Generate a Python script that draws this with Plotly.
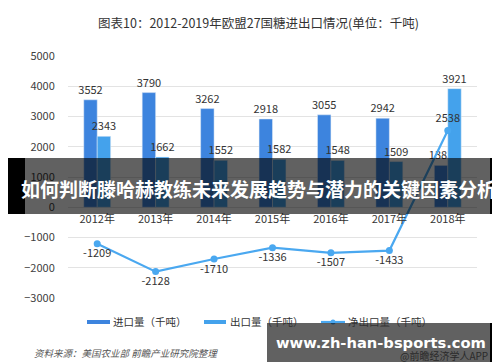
import plotly.graph_objects as go

years = ["2012年", "2013年", "2014年", "2015年", "2016年", "2017年", "2018年"]
imports = [3552, 3790, 3262, 2918, 3055, 2942, 1383]
exports = [2343, 1662, 1552, 1582, 1548, 1509, 3921]
net_exports = [-1209, -2128, -1710, -1336, -1507, -1433, 2538]
y_ticks = [5000, 4000, 3000, 2000, 1000, 0, -1000, -2000, -3000]

W, H = 500, 362
L, R, T, B = 60, 31, 48, 72
PW, PH = W - L - R, H - T - B

def px(x):
    return (x - L) / PW

def py(y):
    return (H - B - y) / PH

FONT = "Noto Sans CJK SC, Noto Sans, sans-serif"
C_IMP = "#3d84de"
C_EXP = "#44a2ec"
C_NET = "#4aa8f0"

fig = go.Figure()
fig.add_trace(go.Bar(x=years, y=imports, name="进口量（千吨）", marker_color=C_IMP,
                     text=[str(v) for v in imports], textposition="outside", constraintext="none",
                     textfont=dict(size=11, color="#333333"), cliponaxis=False))
fig.add_trace(go.Bar(x=years, y=exports, name="出口量（千吨）", marker_color=C_EXP,
                     text=[str(v) for v in exports], textposition="outside", constraintext="none",
                     textfont=dict(size=11, color="#333333"), cliponaxis=False))
fig.add_trace(go.Scatter(x=years, y=net_exports, name="净出口量（千吨）", mode="lines+markers+text",
                         line=dict(color=C_NET, width=2.2), marker=dict(size=7, color=C_NET),
                         text=[str(v) for v in net_exports],
                         textposition=["bottom center"] * 6 + ["top center"],
                         textfont=dict(size=11, color="#333333"), cliponaxis=False))

fig.update_layout(
    width=W, height=H, margin=dict(l=L, r=R, t=T, b=B),
    paper_bgcolor="white", plot_bgcolor="white",
    barmode="group", bargap=0.54, bargroupgap=0,
    showlegend=False,
    font=dict(family=FONT, color="#333333"),
    uniformtext=dict(mode=False),
    yaxis=dict(range=[-3000, 5000], tickvals=y_ticks, showgrid=True, gridcolor="#e3e3e3",
               gridwidth=1, zeroline=True, zerolinecolor="#e3e3e3", zerolinewidth=1,
               ticks="outside", ticklen=10, tickcolor="rgba(0,0,0,0)",
               tickfont=dict(size=11, color="#404040"), showline=False),
    xaxis=dict(type="category", anchor="free", position=3000 / 8000, showline=False,
               ticks="outside", ticklen=2, tickcolor="rgba(0,0,0,0)",
               tickfont=dict(size=11, color="#333333"), showgrid=False),
)

ann = []
shapes = []
# title
ann.append(dict(text="图表10：2012-2019年欧盟27国糖进出口情况(单位：千吨)", xref="paper", yref="paper",
                x=px(250), y=py(15), showarrow=False, xanchor="center", yanchor="middle",
                font=dict(size=12.5, color="#333333", family=FONT)))
# legend (manual)
shapes.append(dict(type="rect", xref="paper", yref="paper", x0=px(79), x1=px(102), y0=py(312), y1=py(316),
                   fillcolor=C_IMP, line=dict(width=0)))
shapes.append(dict(type="rect", xref="paper", yref="paper", x0=px(196), x1=px(218), y0=py(312), y1=py(316),
                   fillcolor=C_EXP, line=dict(width=0)))
shapes.append(dict(type="line", xref="paper", yref="paper", x0=px(313), x1=px(337), y0=py(314), y1=py(314),
                   line=dict(color=C_NET, width=2.2)))
shapes.append(dict(type="circle", xref="paper", yref="paper", x0=px(322.5), x1=px(327.5), y0=py(311.5), y1=py(316.5),
                   fillcolor=C_NET, line=dict(width=0)))
for xx, t in [(103, "进口量（千吨）"), (220, "出口量（千吨）"), (338, "净出口量（千吨）")]:
    ann.append(dict(text=t, xref="paper", yref="paper", x=px(xx), y=py(313.5), showarrow=False,
                    xanchor="left", yanchor="middle", font=dict(size=10.5, color="#333333", family=FONT)))
# source
ann.append(dict(text="<i>资料来源：美国农业部 前瞻产业研究院整理</i>", xref="paper", yref="paper",
                x=px(24), y=py(345), showarrow=False, xanchor="left", yanchor="middle",
                font=dict(size=9.5, color="#555555", family=FONT)))
ann.append(dict(text="@前瞻经济学人APP", xref="paper", yref="paper",
                x=px(482), y=py(347), showarrow=False, xanchor="right", yanchor="middle",
                font=dict(size=10, color="#2a2a2a", family=FONT)))

# overlay banner
shapes.append(dict(type="rect", xref="paper", yref="paper", x0=px(17), x1=px(482), y0=py(206), y1=py(150),
                   fillcolor="rgba(0,0,0,0.62)", line=dict(width=0), layer="above"))
shapes.append(dict(type="rect", xref="paper", yref="paper", x0=px(0), x1=px(17), y0=py(206), y1=py(150),
                   fillcolor="black", line=dict(width=0), layer="above"))
shapes.append(dict(type="rect", xref="paper", yref="paper", x0=px(482), x1=px(500), y0=py(206), y1=py(150),
                   fillcolor="black", line=dict(width=0), layer="above"))
ann.append(dict(text="<b>如何判断滕哈赫教练未来发展趋势与潜力的关键因素分析</b>", xref="paper", yref="paper",
                x=px(250), y=py(180), showarrow=False, xanchor="center", yanchor="middle",
                font=dict(size=19, color="white", family=FONT)))
# bottom-right watermark box
shapes.append(dict(type="rect", xref="paper", yref="paper", x0=px(259), x1=px(482), y0=py(362), y1=py(315),
                   fillcolor="rgba(0,0,0,0.62)", line=dict(width=0), layer="above"))
shapes.append(dict(type="rect", xref="paper", yref="paper", x0=px(482), x1=px(490), y0=py(362), y1=py(315),
                   fillcolor="black", line=dict(width=0), layer="above"))
ann.append(dict(text="<b>www.zh-han-bsports.com</b>", xref="paper", yref="paper",
                x=px(373), y=py(334), showarrow=False, xanchor="center", yanchor="middle",
                font=dict(size=14.7, color="white", family="DejaVu Sans, Noto Sans, sans-serif")))

fig.update_layout(annotations=ann, shapes=shapes)
fig.write_html("out.html")
